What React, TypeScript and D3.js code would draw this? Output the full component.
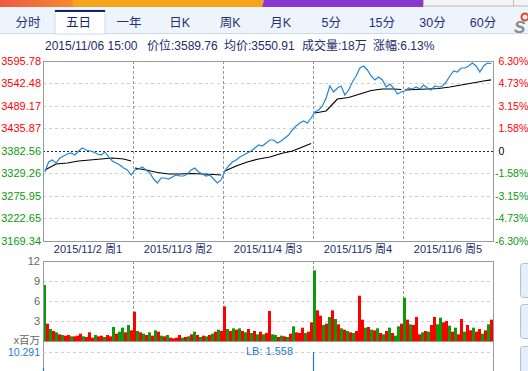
import * as d3 from "d3";

const tabs = ["分时", "五日", "一年", "日K", "周K", "月K", "5分", "15分", "30分", "60分"];
const activeTab = 1;

const headerParts = ["2015/11/06 15:00", "价位:3589.76", "均价:3550.91", "成交量:18万", "涨幅:6.13%"];
const headerX = [45, 147, 224, 302, 373];

const dayLabels = ["2015/11/2 周1", "2015/11/3 周2", "2015/11/4 周3", "2015/11/5 周4", "2015/11/6 周5"];

const preClose = 3382.56;
const priceTicks = [3595.78, 3542.48, 3489.17, 3435.87, 3382.56, 3329.26, 3275.95, 3222.65, 3169.34];
const pctTicks = ["6.30%", "4.73%", "3.15%", "1.58%", "0", "-1.58%", "-3.15%", "-4.73%", "-6.30%"];
const volTicks = [12, 9, 6, 3];

// 24 samples per trading day
const price1 = [3332.8, 3356.5, 3361.3, 3354.1, 3366.0, 3370.7, 3375.5, 3377.8, 3373.1, 3382.6, 3389.7, 3385.0, 3382.6, 3380.2, 3375.5, 3373.1, 3380.2, 3368.4, 3358.9, 3354.1, 3349.4, 3342.3, 3337.6, 3325.7];
const price2 = [3337.6, 3340.0, 3344.7, 3337.6, 3330.5, 3316.2, 3306.8, 3318.6, 3318.6, 3316.2, 3321.0, 3325.7, 3323.3, 3323.3, 3328.1, 3337.6, 3342.3, 3332.8, 3328.1, 3323.3, 3325.7, 3316.2, 3306.8, 3313.9];
const price3 = [3335.2, 3347.0, 3356.5, 3361.3, 3368.4, 3373.1, 3377.8, 3382.6, 3389.7, 3396.8, 3394.4, 3401.5, 3408.6, 3408.6, 3401.5, 3406.3, 3413.4, 3420.5, 3432.3, 3441.8, 3448.9, 3453.6, 3448.9, 3460.7];
const price4 = [3475.0, 3479.7, 3489.2, 3508.1, 3536.6, 3522.3, 3531.8, 3536.6, 3515.2, 3527.1, 3546.0, 3560.3, 3579.2, 3583.9, 3574.5, 3560.3, 3550.8, 3557.9, 3550.8, 3534.2, 3541.3, 3531.8, 3517.6, 3522.3];
const price5 = [3524.7, 3531.8, 3529.5, 3534.2, 3529.5, 3539.0, 3531.8, 3527.1, 3536.6, 3534.2, 3536.6, 3546.0, 3560.3, 3572.1, 3569.7, 3579.2, 3579.2, 3583.9, 3591.0, 3583.9, 3569.7, 3583.9, 3591.0, 3589.76];

// average price, sampled at these positions of the 24 per day
const avgIdx = [0, 3, 6, 9, 12, 15, 18, 21, 23];
const avg1 = [3337.6, 3351.8, 3354.1, 3358.9, 3361.3, 3363.6, 3366.0, 3363.6, 3358.9];
const avg2 = [3342.3, 3337.6, 3331.6, 3328.1, 3328.1, 3329.3, 3328.1, 3326.9, 3325.7];
const avg3 = [3335.2, 3347.0, 3356.5, 3363.6, 3368.4, 3376.6, 3382.6, 3393.2, 3400.3];
const avg4 = [3472.6, 3477.3, 3505.7, 3509.3, 3517.6, 3525.9, 3529.5, 3529.5, 3528.3];
const avg5 = [3527.1, 3528.3, 3529.5, 3530.6, 3534.2, 3539.0, 3543.7, 3548.4, 3550.91];

// volume (百万), 30 bars per day, R = up, G = down
const vol1 = [8.4, 2.6, 1.8, 1.5, 1.3, 1.0, 0.9, 0.8, 0.9, 0.7, 0.7, 0.8, 1.1, 0.7, 0.6, 1.3, 0.5, 0.9, 0.7, 0.8, 0.6, 0.9, 0.7, 2.1, 1.1, 1.4, 2.0, 1.3, 2.4, 1.6];
const vol2 = [4.4, 1.5, 1.3, 1.1, 0.9, 1.3, 0.8, 1.6, 1.4, 0.8, 0.7, 0.9, 0.5, 0.4, 0.5, 0.9, 0.5, 0.6, 0.7, 1.0, 1.4, 0.9, 0.6, 0.8, 0.7, 0.9, 1.1, 1.4, 1.7, 1.5];
const vol3 = [5.2, 1.8, 1.5, 1.9, 1.7, 1.9, 1.5, 1.3, 1.8, 1.2, 1.5, 1.0, 1.4, 1.0, 1.2, 4.5, 1.0, 0.9, 0.6, 0.8, 0.7, 0.6, 1.1, 2.2, 1.3, 1.2, 2.0, 1.2, 1.4, 2.8];
const vol4 = [10.6, 4.6, 3.8, 2.4, 2.6, 3.6, 4.6, 3.3, 2.5, 1.9, 1.7, 1.5, 1.3, 1.2, 1.5, 6.8, 3.2, 2.0, 2.1, 1.7, 1.6, 1.9, 1.2, 1.0, 1.5, 2.0, 1.2, 0.8, 2.2, 2.6];
const vol5 = [6.5, 3.2, 2.5, 2.4, 3.6, 1.0, 1.3, 1.5, 1.4, 2.4, 3.6, 2.5, 3.5, 2.8, 3.0, 2.3, 1.4, 2.0, 1.0, 3.3, 1.4, 2.4, 1.6, 2.0, 1.4, 1.8, 1.1, 1.6, 2.5, 3.2];
const side1 = "GRGRGRGRRGRRRGRRRGRRGRRGRGGRGR";
const side2 = "RGRGRGRGRGRGRRRRGRGRGRGRGRGRGR";
const side3 = "RGRGRGRGRGRGRGRRGGRGRGRGRRRGRR";
const side4 = "GRRGRGRGRGRGRGRRRGRGRGRGRGRGGR";
const side5 = "GRGRRRGRGRRGGRRGRGRRGRRGRRGRGR";

// 量比 at each day's open and the minute after
const lbOpen = [6.9, 4.2, 5.1, 10.291, 5.6];
const lbNext = [1.2, 1.0, 1.1, 1.5, 1.3];
const lbLast = 1.558;

const prices = [price1, price2, price3, price4, price5];
const avgs = [avg1, avg2, avg3, avg4, avg5];
const vols = [vol1, vol2, vol3, vol4, vol5];
const sides = [side1, side2, side3, side4, side5];

const W = 528;
const H = 371;
const L = 43;
const R = 493;
const FONT = "'Liberation Sans', Arial, 'Noto Sans CJK SC', sans-serif";
const RED = "#ff0000";
const GREEN = "#0a9a0a";
const NAVY = "#1b2c6e";
const LBBLUE = "#1f7ccc";

export default function App() {
  const x = d3.scaleLinear().domain([0, 5]).range([L, R]);
  const y = d3.scaleLinear().domain([3169.34, 3595.78]).range([241, 61]);
  const yv = d3.scaleLinear().domain([0, 12]).range([341, 261]);
  const ylb = d3.scaleLinear().domain([0, 10.291]).range([400, 352]);
  const tabX = d3.scaleLinear().domain([0, 9]).range([28, 483]);

  const pts: [number, number][] = [];
  prices.forEach((day, d) => day.forEach((p, i) => pts.push([x(d + (i + 0.5) / 24), y(p)])));
  const line = d3.line();

  const avgPaths = avgs.map((day, d) =>
    line(day.map((p, j) => [x(d + (avgIdx[j] + 0.5) / 24), y(p)] as [number, number]))
  );

  const bars: { x: number; h: number; y: number; c: string }[] = [];
  vols.forEach((day, d) =>
    day.forEach((v, k) => {
      bars.push({ x: x(d + k / 30), y: yv(v), h: yv(0) - yv(v), c: sides[d][k] === "R" ? RED : GREEN });
    })
  );

  // one short LB segment per day (the open spike)
  const lbPaths = lbOpen.map((v, d) =>
    line([
      [Math.round(x(d)) + 0.5, ylb(v)],
      [Math.round(x(d)) + 0.5, ylb(lbNext[d])],
      [Math.round(x(d)) + 2, ylb(lbNext[d])],
    ])
  );

  const bw = (R - L) / 150;

  return (
    <svg width={W} height={H} style={{ position: "absolute", left: 0, top: 0, background: "#fff" }} fontFamily={FONT}>
      {/* top colour strip */}
      <defs>
        <linearGradient id="warm" x1="0" x2="1">
          <stop offset="0" stopColor="#ee5a44" />
          <stop offset="1" stopColor="#f58f2a" />
        </linearGradient>
      </defs>
      <rect x={0} y={0} width={W} height={7} fill="#f0f0f0" />
      <rect x={0} y={0} width={80} height={7} fill="url(#warm)" />
      <polygon points="72,0 264,0 262,7 74,7" fill="#f6a41c" />
      <polygon points="264,0 423,0 423,7 262,7" fill="#8a36d3" />
      <rect x={423.5} y={-1} width={90} height={7} fill="#f4f4f4" stroke="#bdbdbd" />
      <rect x={513.5} y={-1} width={20} height={7} fill="#f4f4f4" stroke="#bdbdbd" />

      {/* tab bar */}
      <rect x={0} y={7} width={W} height={26} fill="#eef4fc" />
      <line x1={0} x2={W} y1={33.5} y2={33.5} stroke="#c9d9ee" />
      <rect x={55} y={10} width={50} height={24} fill="#fff" stroke="#c9d9ee" />
      <rect x={55} y={10} width={50} height={2} fill="#13246e" />
      {tabs.map((t, i) => (
        <text key={t} x={tabX(i)} y={27} fontSize={12.5} textAnchor="middle" fill={i === activeTab ? "#13246e" : "#1e3278"}>
          {t}
        </text>
      ))}
      <text x={514} y={33} fontSize={17} fontWeight="bold" fontStyle="italic" fill="#8a8a8a">S</text>
      <circle cx={525} cy={17} r={3.5} fill="none" stroke="#e8402a" strokeWidth={2} />

      {/* header info */}
      {headerParts.map((t, i) => (
        <text key={t} x={headerX[i]} y={50} fontSize={12} fill={NAVY}>
          {t}
        </text>
      ))}

      {/* price panel */}
      {priceTicks.map((p) =>
        p === preClose ? null : (
          <line key={p} x1={L} x2={R} y1={Math.round(y(p)) + 0.5} y2={Math.round(y(p)) + 0.5} stroke="#cfcfcf" strokeDasharray="3,3" />
        )
      )}
      {[1, 2, 3, 4].map((d) => (
        <line key={d} x1={Math.round(x(d)) + 0.5} x2={Math.round(x(d)) + 0.5} y1={61} y2={241} stroke="#999" strokeDasharray="3,2" />
      ))}
      <line x1={L} x2={R} y1={Math.round(y(preClose)) + 0.5} y2={Math.round(y(preClose)) + 0.5} stroke="#222" strokeDasharray="2,2" />
      <rect x={L + 0.5} y={61.5} width={R - L} height={180} fill="none" stroke="#9a9a9a" />
      {avgPaths.map((p, d) => (
        <path key={d} d={p ?? ""} fill="none" stroke="#000" strokeWidth={1.2} />
      ))}
      <path d={line(pts) ?? ""} fill="none" stroke="#1f86d6" strokeWidth={1.2} />

      {priceTicks.map((p) => (
        <text key={p} x={41} y={y(p) + 4} fontSize={11} textAnchor="end" fill={p > preClose ? RED : GREEN}>
          {p.toFixed(2)}
        </text>
      ))}
      {pctTicks.map((t, i) => (
        <text key={t} x={i > 4 ? 495 : 498.5} y={y(priceTicks[i]) + 4} fontSize={10.5} fill={i < 4 ? RED : i === 4 ? "#000" : GREEN}>
          {t}
        </text>
      ))}

      {dayLabels.map((t, d) => (
        <text key={t} x={x(d + 0.5)} y={253} fontSize={11} textAnchor="middle" fill={NAVY}>
          {t}
        </text>
      ))}

      {/* volume panel */}
      {volTicks.slice(1).map((v) => (
        <line key={v} x1={L} x2={R} y1={Math.round(yv(v)) + 0.5} y2={Math.round(yv(v)) + 0.5} stroke="#cfcfcf" strokeDasharray="3,3" />
      ))}
      {[1, 2, 3, 4].map((d) => (
        <line key={d} x1={Math.round(x(d)) + 0.5} x2={Math.round(x(d)) + 0.5} y1={261} y2={341} stroke="#999" strokeDasharray="3,2" />
      ))}
      {bars.map((b, i) => (
        <rect key={i} x={b.x} y={b.y} width={bw} height={b.h} fill={b.c} />
      ))}
      <line x1={L} x2={R + 1} y1={261.5} y2={261.5} stroke="#9a9a9a" />
      <line x1={L} x2={R + 1} y1={341.5} y2={341.5} stroke="#9a9a9a" />
      <line x1={L + 0.5} x2={L + 0.5} y1={261} y2={H} stroke="#9a9a9a" />
      <line x1={R + 0.5} x2={R + 0.5} y1={261} y2={H} stroke="#9a9a9a" />
      {volTicks.map((v) => (
        <text key={v} x={40} y={yv(v) + 4} fontSize={11} textAnchor="end" fill="#666">
          {v}
        </text>
      ))}
      <text x={40} y={344} fontSize={10.5} textAnchor="end" fill="#666">x百万</text>

      {/* LB panel */}
      <line x1={L} x2={R} y1={352.5} y2={352.5} stroke="#cfcfcf" strokeDasharray="3,3" />
      {lbPaths.map((p, d) => (
        <path key={d} d={p ?? ""} fill="none" stroke={LBBLUE} strokeWidth={1.2} />
      ))}
      <text x={40} y={356} fontSize={10.5} textAnchor="end" fill={LBBLUE}>{lbOpen[3].toFixed(3)}</text>
      <text x={246} y={355} fontSize={11} fill={LBBLUE}>LB: {lbLast.toFixed(3)}</text>

      {/* right side buttons */}
      {[263, 304, 346].map((by) => (
        <rect key={by} x={520.5} y={by + 0.5} width={20} height={34} rx={3} fill="#e6eefa" stroke="#a7c1e2" />
      ))}
    </svg>
  );
}
